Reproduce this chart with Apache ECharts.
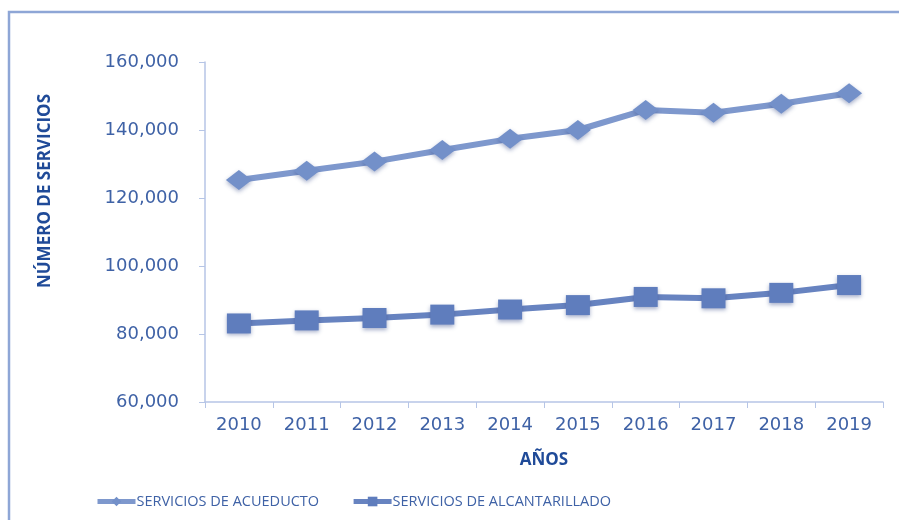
<!DOCTYPE html>
<html>
<head>
<meta charset="utf-8">
<script src="https://cdn.jsdelivr.net/npm/echarts@6/dist/echarts.min.js"></script>
<style>
  html, body { margin: 0; padding: 0; background: #fff; }
  #chart { width: 899px; height: 520px; }
</style>
</head>
<body>
<div id="chart"></div>
<script>
const years = ['2010', '2011', '2012', '2013', '2014', '2015', '2016', '2017', '2018', '2019'];
const acueducto = [125300, 128000, 130700, 134100, 137400, 140000, 145900, 145100, 147700, 150800];
const alcantarillado = [83100, 84000, 84700, 85700, 87200, 88500, 90900, 90500, 92100, 94400];
const seriesNames = ['SERVICIOS DE ACUEDUCTO', 'SERVICIOS DE ALCANTARILLADO'];

const labelColor = '#3f62a6';
const titleColor = '#1f4a98';
const axisColor = '#b6c5e6';

const chart = echarts.init(document.getElementById('chart'));

chart.setOption({
  animation: false,
  graphic: [
    {
      type: 'rect',
      shape: { x: 9, y: 12, width: 1000, height: 600 },
      style: { fill: 'none', stroke: '#8ea6d6', lineWidth: 2.5 }
    },
    {
      type: 'text',
      left: 37,
      top: 94,
      rotation: Math.PI / 2,
      style: {
        text: 'NÚMERO DE SERVICIOS',
        fill: titleColor,
        font: 'bold 17px "Open Sans", sans-serif'
      }
    }
  ],
  grid: { left: 205, right: 16, top: 62, bottom: 118 },
  legend: {
    left: 90,
    top: 489,
    itemWidth: 38,
    itemHeight: 12,
    itemGap: 32,
    data: seriesNames,
    lineStyle: { width: 5 },
    textStyle: { color: labelColor, fontSize: 14.5, fontFamily: '"Open Sans", sans-serif', padding: [0, 0, 0, -4] }
  },
  xAxis: {
    type: 'category',
    data: years,
    name: 'AÑOS',
    nameLocation: 'middle',
    nameGap: 50,
    nameTextStyle: { color: titleColor, fontWeight: 'bold', fontSize: 17, fontFamily: '"Open Sans", sans-serif' },
    axisLine: { lineStyle: { color: axisColor, width: 1.5 } },
    axisTick: { show: true, length: 6, lineStyle: { color: axisColor } },
    axisLabel: { color: labelColor, fontSize: 18, fontFamily: '"DejaVu Sans", sans-serif', margin: 14 }
  },
  yAxis: {
    type: 'value',
    min: 60000,
    max: 160000,
    interval: 20000,
    axisLine: { show: true, lineStyle: { color: axisColor, width: 1.5 } },
    axisTick: { show: true, length: 6, lineStyle: { color: axisColor } },
    splitLine: { show: false },
    axisLabel: {
      color: labelColor,
      fontSize: 18,
      fontFamily: '"DejaVu Sans", sans-serif',
      margin: 26,
      formatter: (v) => v.toLocaleString('en-US')
    }
  },
  series: [
    {
      name: seriesNames[0],
      type: 'line',
      data: acueducto,
      symbol: 'diamond',
      symbolSize: [26, 20],
      lineStyle: { color: '#7e98cd', width: 6 },
      itemStyle: { color: '#7390c9', shadowBlur: 4, shadowColor: 'rgba(60,80,140,0.45)', shadowOffsetY: 2 }
    },
    {
      name: seriesNames[1],
      type: 'line',
      data: alcantarillado,
      symbol: 'rect',
      symbolSize: [24, 20],
      lineStyle: { color: '#6783c0', width: 6 },
      itemStyle: { color: '#5f7dbd', shadowBlur: 4, shadowColor: 'rgba(60,80,140,0.45)', shadowOffsetY: 2 }
    }
  ]
});
</script>
</body>
</html>
